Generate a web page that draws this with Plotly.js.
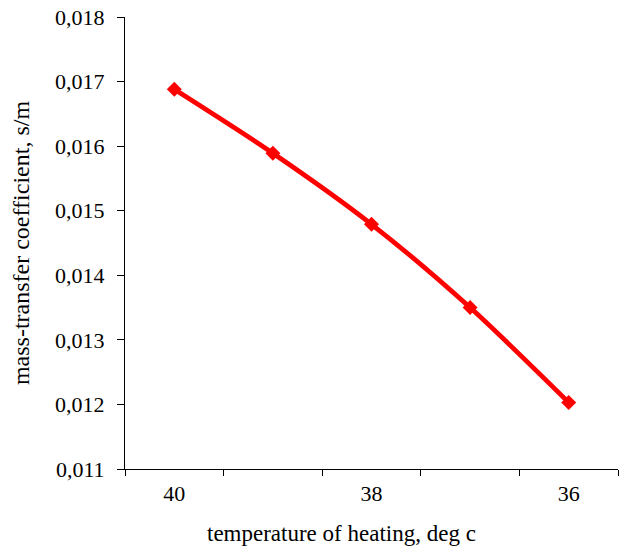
<!DOCTYPE html>
<html>
<head>
<meta charset="utf-8">
<script src="https://cdn.plot.ly/plotly-3.0.1.min.js"></script>
<style>html,body{margin:0;padding:0;background:#fff;}#chart{width:619px;height:552px;}</style>
</head>
<body>
<div id="chart"></div>
<script>
const temperatures = [40, 39, 38, 37, 36];
const coefficients = [0.01688, 0.01589, 0.01479, 0.01350, 0.01203];
const labelTemps = [40, 38, 36];
const labelText = ['40', '38', '36'];
const boundaryTicks = [40.5, 39.5, 38.5, 37.5, 36.5, 35.5];
const xTitle = 'temperature of heating, deg c';
const yTitle = 'mass-transfer coefficient, s/m';

const font = {family: '"Liberation Serif", "Times New Roman", serif', color: '#000'};

const data = [
  {
    x: temperatures, y: coefficients, xaxis: 'x', yaxis: 'y',
    type: 'scatter', mode: 'lines+markers',
    line: {color: '#ff0000', width: 4.8, shape: 'spline', smoothing: 0.8},
    marker: {symbol: 'diamond', size: 11.5, color: '#ff0000'},
    hoverinfo: 'x+y', showlegend: false
  },
  {
    x: labelTemps, y: [null, null, null], xaxis: 'x2', yaxis: 'y',
    type: 'scatter', mode: 'markers', showlegend: false, hoverinfo: 'skip'
  }
];

const layout = {
  width: 619, height: 552,
  margin: {l: 125, r: 1, t: 17, b: 83, pad: 0},
  paper_bgcolor: '#fff', plot_bgcolor: '#fff',
  separators: ', ',
  showlegend: false,
  font: Object.assign({size: 18}, font),
  xaxis: {
    range: [40.5, 35.5], autorange: false,
    tickmode: 'array', tickvals: boundaryTicks, ticktext: boundaryTicks.map(() => ''),
    ticks: 'outside', ticklen: 6, tickwidth: 1, tickcolor: '#000',
    showline: true, linecolor: '#000', linewidth: 1,
    showgrid: false, zeroline: false
  },
  xaxis2: {
    overlaying: 'x', side: 'bottom', anchor: 'y',
    range: [40.5, 35.5], autorange: false,
    tickmode: 'array', tickvals: labelTemps, ticktext: labelText,
    ticks: '', showline: false, showgrid: false, zeroline: false,
    tickfont: Object.assign({size: 22}, font), ticklabelstandoff: 9
  },
  yaxis: {
    range: [0.011, 0.018], autorange: false,
    tickmode: 'linear', tick0: 0.011, dtick: 0.001, tickformat: '.3f',
    ticks: 'outside', ticklen: 7, tickwidth: 1, tickcolor: '#000',
    showline: true, linecolor: '#000', linewidth: 1,
    showgrid: false, zeroline: false,
    tickfont: Object.assign({size: 22}, font), ticklabelstandoff: 8,
    title: {text: yTitle, font: Object.assign({size: 24}, font), standoff: 18}
  },
  annotations: [
    {
      text: xTitle, xref: 'paper', yref: 'paper',
      x: 0.44, y: -0.1416, xanchor: 'center', yanchor: 'middle',
      showarrow: false, font: Object.assign({size: 23}, font)
    }
  ]
};

Plotly.newPlot('chart', data, layout, {displayModeBar: false, staticPlot: true});
</script>
</body>
</html>
